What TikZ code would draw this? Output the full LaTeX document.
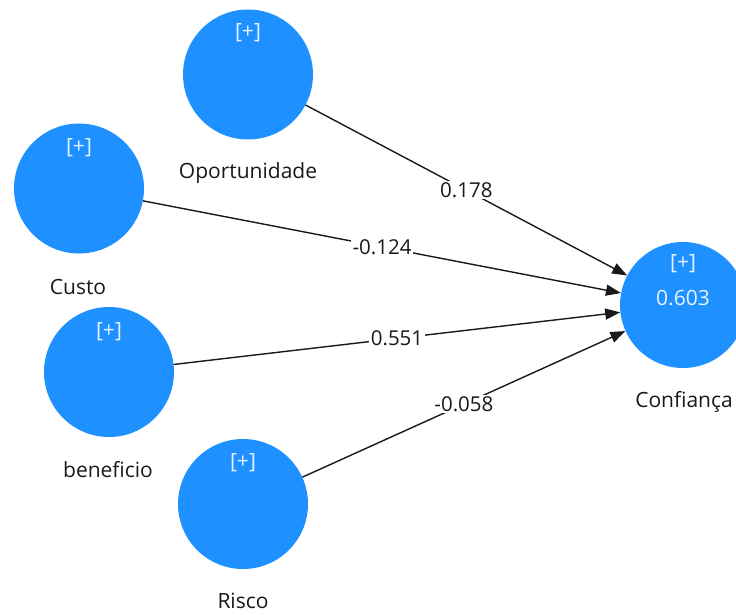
\documentclass[tikz,border=0pt]{standalone}
\usepackage{fontspec}
\setmainfont{Open Sans}
\usetikzlibrary{arrows.meta}
\definecolor{lvblue}{RGB}{30,144,255}
\definecolor{inktext}{RGB}{25,25,25}
\begin{document}
\begin{tikzpicture}[x=1pt,y=-1pt,
  latent/.style={circle,fill=lvblue,minimum size=130pt,inner sep=0pt},
  plusmark/.style={text=white!90!lvblue,font=\fontsize{21}{24}\selectfont,inner sep=0pt},
  varlabel/.style={text=inktext,font=\fontsize{21}{24}\selectfont,inner sep=0pt},
  pathcoef/.style={draw=inktext,line width=1.4pt,-{Triangle[length=15pt,width=11pt]}},
  coef/.style={fill=white,text=inktext,inner sep=1.5pt,font=\fontsize{20.5}{24}\selectfont}]
\useasboundingbox (0,0) rectangle (736,614);

% latent variables
\node[latent] (opp) at (248,74.5) {};
\node[latent] (custo) at (79,188.5) {};
\node[latent] (benef) at (109,372) {};
\node[latent] (risco) at (243,504) {};
\node[latent,minimum size=126pt] (conf) at (683,305) {};

% indicator markers
\node[plusmark] (oppP) at (248,33) {[+]};
\node[plusmark] (custoP) at (79,148) {[+]};
\node[plusmark] (benefP) at (109,332) {[+]};
\node[plusmark] (riscoP) at (243,463) {[+]};
\node[plusmark] (confP) at (683,264) {[+]};
\node[plusmark] (confR) at (683,298) {0.603};

% construct names
\node[varlabel] (oppN) at (248,173) {Oportunidade};
\node[varlabel] (custoN) at (78,287) {Custo};
\node[varlabel] (benefN) at (108,470) {beneficio};
\node[varlabel] (riscoN) at (243,601) {Risco};
\node[varlabel] (confN) at (684,402) {Confiança};

% path coefficients
\draw[pathcoef] (opp) -- node[coef] {0.178} (conf);
\draw[pathcoef] (custo) -- node[coef] {-0.124} (conf);
\draw[pathcoef] (benef) -- node[coef] {0.551} (conf);
\draw[pathcoef] (risco) -- node[coef] {-0.058} (conf);
\end{tikzpicture}
\end{document}
